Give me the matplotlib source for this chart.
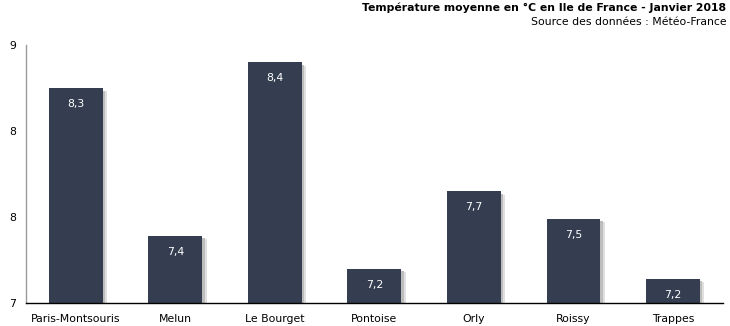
import matplotlib.pyplot as plt
from matplotlib.ticker import FormatStrFormatter

# données
stations = ['Paris-Montsouris', 'Melun', 'Le Bourget', 'Pontoise', 'Orly', 'Roissy', 'Trappes']
temperatures = [8.28, 7.42, 8.43, 7.23, 7.68, 7.52, 7.17]
y_ticks = [7.03, 7.53, 8.03, 8.53]

bar_color = '#343e50'

plt.rcParams['font.family'] = 'DejaVu Sans'

fig = plt.figure(figsize=(7.3, 3.26), dpi=100)
ax = fig.add_axes([0.0356, 0.0706, 0.9544, 0.7914])

x = range(len(stations))
base = y_ticks[0]
heights = [t - base for t in temperatures]

# ombre légère à droite des barres
ax.bar([i + 0.045 for i in x], [h - 0.02 for h in heights], width=0.54,
       bottom=base, color='#e0e0e0', zorder=1)
ax.bar([i + 0.025 for i in x], [h - 0.015 for h in heights], width=0.54,
       bottom=base, color='#bdbdbd', zorder=1)

ax.bar(x, heights, width=0.54, bottom=base, color=bar_color, zorder=2)

for i, t in enumerate(temperatures):
    label = f"{t:.1f}".replace('.', ',')
    ax.annotate(label, (i, t), xytext=(0, -11.5), textcoords='offset points',
                ha='center', va='center', color='white', fontsize=7.8, zorder=3)

ax.set_xlim(-0.5, 6.5)
ax.set_ylim(y_ticks[0], y_ticks[-1])
ax.set_yticks(y_ticks)
ax.yaxis.set_major_formatter(FormatStrFormatter('%.0f'))
ax.set_xticks(list(x))
ax.set_xticklabels(stations)
ax.tick_params(axis='both', length=0, labelsize=7.8, colors='black')
ax.tick_params(axis='x', pad=8)
ax.tick_params(axis='y', pad=7)

for s in ['top', 'right']:
    ax.spines[s].set_visible(False)
ax.spines['left'].set_color('#9a9a9a')
ax.spines['left'].set_linewidth(1)
ax.spines['bottom'].set_color('black')
ax.spines['bottom'].set_linewidth(1)

fig.text(0.995, 0.975, "Température moyenne en °C en Ile de France - Janvier 2018",
         ha='right', va='center', fontsize=7.8, fontweight='bold')
fig.text(0.995, 0.933, "Source des données : Météo-France",
         ha='right', va='center', fontsize=7.8)

plt.savefig('out.png', dpi=100)
plt.close()
